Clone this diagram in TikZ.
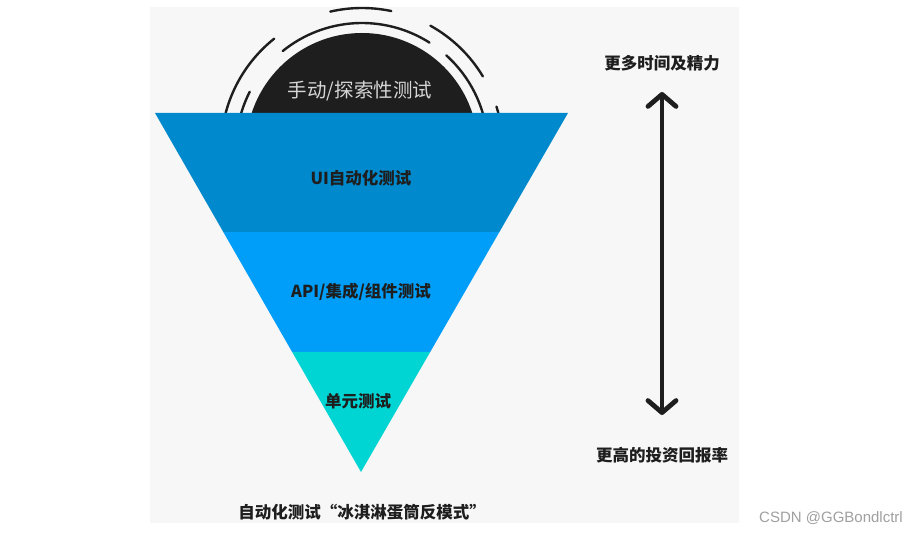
\documentclass[tikz,border=0pt]{standalone}
\usepackage{fontspec}
\newfontfamily\cjk{Noto Sans CJK SC}
\setsansfont{Liberation Sans}
\usetikzlibrary{arrows.meta,calc}
\definecolor{bggray}{HTML}{F7F7F7}
\definecolor{inkblack}{HTML}{1E1E1E}
\definecolor{bandtop}{HTML}{0089CC}
\definecolor{bandmid}{HTML}{009EF8}
\definecolor{bandlow}{HTML}{00D5D3}
\definecolor{lighttext}{HTML}{D6D6D6}
\definecolor{marktext}{HTML}{A0A0A0}
\tikzset{
  ring/.style={draw=inkblack, line width=2.4pt, line cap=round},
  lbl/.style={inner sep=0pt, text=inkblack, font=\cjk\bfseries\fontsize{16.5}{18}\selectfont},
  biglbl/.style={inner sep=0pt, text=lighttext, font=\cjk\fontsize{19.5}{21}\selectfont},
  bigarrow/.style={draw=inkblack, line width=4.8pt, line cap=round,
    {Straight Barb[length=12pt,width=28pt,round]}-{Straight Barb[length=12pt,width=28pt,round]}},
  watermark/.style={inner sep=0pt, text=marktext, font=\sffamily\fontsize{15}{17}\selectfont}
}
\begin{document}
\begin{tikzpicture}[x=1pt,y=-1pt]
\useasboundingbox (0,0) rectangle (906,534);
\fill[white] (0,0) rectangle (906,534);
\fill[bggray] (150,7) rectangle (739,523);
% black dome and its broken rings
\coordinate (c) at (362,149);
\fill[inkblack] (c) circle[radius=116];
\draw[ring] ($(c)+(-128.5:141)$) arc[start angle=-128.5, end angle=-175, radius=141];
\draw[ring] ($(c)+(-78:141)$) arc[start angle=-78, end angle=-103, radius=141];
\draw[ring] ($(c)+(-31:141)$) arc[start angle=-31, end angle=-61, radius=141];
\draw[ring] ($(c)+(-5:141)$) arc[start angle=-5, end angle=-17.5, radius=141];
\draw[ring] ($(c)+(-153:126)$) arc[start angle=-153, end angle=-175, radius=126];
\draw[ring] ($(c)+(-57.6:126)$) arc[start angle=-57.6, end angle=-129, radius=126];
\draw[ring] ($(c)+(-5:126)$) arc[start angle=-5, end angle=-48, radius=126];
% inverted triangle in three bands
\coordinate (TL) at (155,113);
\coordinate (TR) at (568,113);
\coordinate (AP) at (361,472);
\coordinate (L1) at ($(TL)!0.3315!(AP)$);
\coordinate (R1) at ($(TR)!0.3315!(AP)$);
\coordinate (L2) at ($(TL)!0.6657!(AP)$);
\coordinate (R2) at ($(TR)!0.6657!(AP)$);
\fill[bandtop] (TL) -- (TR) -- (R1) -- (L1) -- cycle;
\fill[bandmid] (L1) -- (R1) -- (R2) -- (L2) -- cycle;
\fill[bandlow] (L2) -- (R2) -- (AP) -- cycle;
% labels
\node[biglbl] (manual) at (360,91) {手动/探索性测试};
\node[lbl] (ui) at (361,178) {UI自动化测试};
\node[lbl] (api) at (361,292) {API/集成/组件测试};
\node[lbl] (unit) at (358,401) {单元测试};
\node[lbl] (caption) at (362,512) {自动化测试“冰淇淋蛋筒反模式”};
\node[lbl] (more) at (662,63) {更多时间及精力};
\node[lbl] (roi) at (662,455) {更高的投资回报率};
% double arrow
\coordinate (up) at (662,92);
\coordinate (dn) at (662,415);
\draw[bigarrow] (dn) -- (up);
\node[watermark, anchor=east] (wm) at (903,518) {CSDN @GGBondlctrl};
\end{tikzpicture}
\end{document}
